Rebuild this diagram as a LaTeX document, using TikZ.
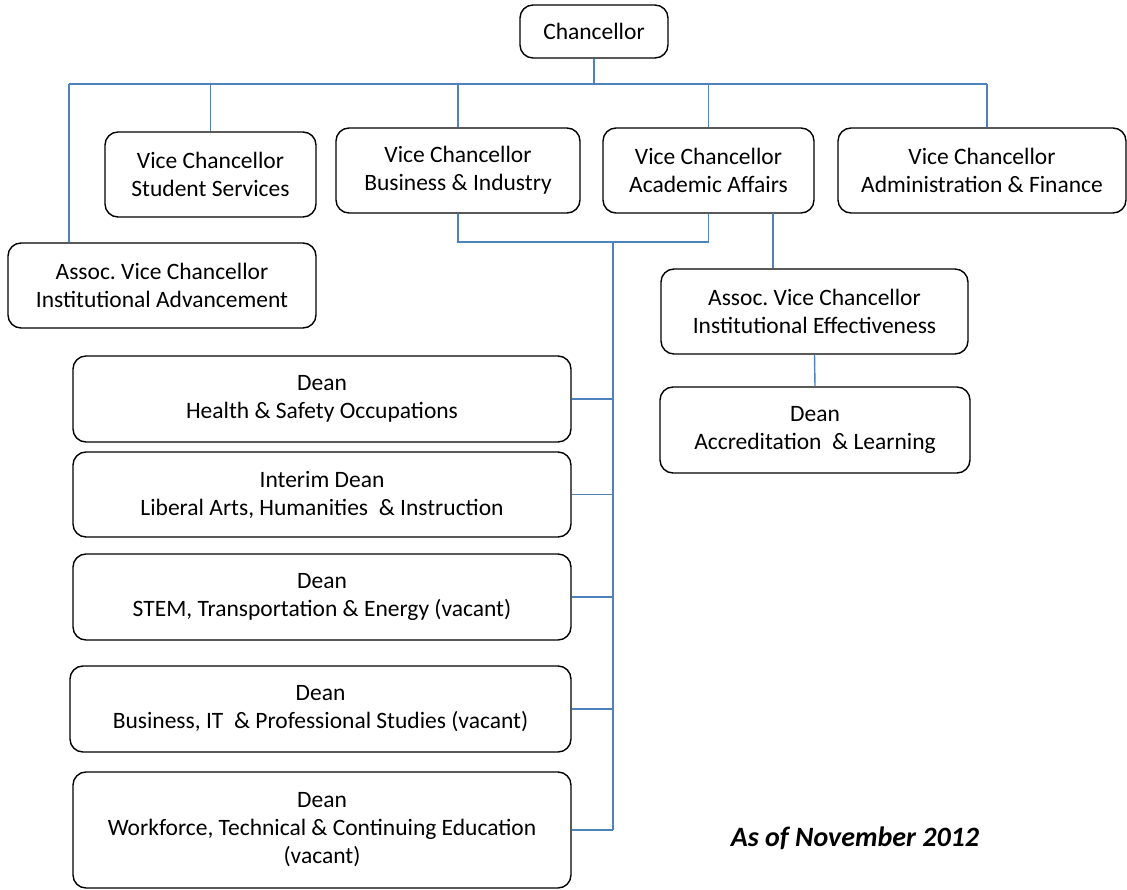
\documentclass[tikz,border=0pt]{standalone}
\usepackage{fontspec}
\setmainfont{Carlito}
\usepackage{tikz}
\definecolor{linkblue}{RGB}{79,129,189}
\frenchspacing

\begin{document}
\begin{tikzpicture}[x=1pt, y=-1pt,
    box/.style={draw, rounded corners=13pt, line width=1.4pt, align=center, inner sep=0pt,
      font=\fontsize{23.5}{28}\selectfont},
    link/.style={draw=linkblue, line width=1.4pt}]
    \useasboundingbox (0,0) rectangle (1127,890);

    \node[box, minimum width=148, minimum height=53] (chanc) at (594,31.5) {Chancellor};
    \node[box, minimum width=211, minimum height=85] (vcss) at (210.5,174.5) {Vice Chancellor\\Student Services};
    \node[box, minimum width=244, minimum height=85] (vcbi) at (458,170.5) {Vice Chancellor\\Business \& Industry};
    \node[box, minimum width=211, minimum height=85] (vcaa) at (708.5,170.5) {Vice Chancellor\\Academic Affairs};
    \node[box, minimum width=288, minimum height=85] (vcaf) at (982,170.5) {Vice Chancellor\\Administration \& Finance};
    \node[box, minimum width=308, minimum height=85] (avcia) at (162,285.5) {Assoc. Vice Chancellor\\Institutional Advancement};
    \node[box, minimum width=307, minimum height=85] (avcie) at (814.5,311.5) {Assoc. Vice Chancellor\\Institutional Effectiveness};
    \node[box, minimum width=310, minimum height=86] (deanal) at (815,430) {Dean\\Accreditation\ \ \& Learning};

    \node[box, minimum width=498, minimum height=86] (deanhs) at (322,399) {Dean\\Health \& Safety Occupations};
    \node[box, minimum width=498, minimum height=85] (deanla) at (322,494.5) {Interim Dean\\Liberal Arts, Humanities\ \ \& Instruction};
    \node[box, minimum width=498, minimum height=86] (deanstem) at (322,597) {Dean\\STEM, Transportation \& Energy (vacant)};
    \node[box, minimum width=501, minimum height=86] (deanbit) at (320.5,709) {Dean\\Business, IT\ \ \& Professional Studies (vacant)};
    \node[box, minimum width=498, minimum height=116] (deanwf) at (322,830) {Dean\\Workforce, Technical \& Continuing Education\\(vacant)};

    \node[font=\fontsize{28}{34}\selectfont\bfseries\itshape] (asof) at (855,838) {As of November 2012};

    \coordinate (busl) at (69,84);
    \coordinate (busr) at (987,84);
    \coordinate (join) at (613,242);
    \coordinate (aatap) at (773,213);

    \draw[link] (chanc.south) -- (chanc.south |- busl);
    \draw[link] (busl) -- (busr);
    \draw[link] (busl) -- (busl |- avcia.north);
    \draw[link] (vcss.north) -- (vcss.north |- busl);
    \draw[link] (vcbi.north) -- (vcbi.north |- busl);
    \draw[link] (vcaa.north) -- (vcaa.north |- busl);
    \draw[link] (busr) -- (busr |- vcaf.north);

    \draw[link] (vcbi.south) |- (join) -| (vcaa.south);
    \draw[link] (join) -- (join |- deanwf.east);
    \draw[link] (deanhs.east) -- (deanhs.east -| join);
    \draw[link] (deanla.east) -- (deanla.east -| join);
    \draw[link] (deanstem.east) -- (deanstem.east -| join);
    \draw[link] (deanbit.east) -- (deanbit.east -| join);
    \draw[link] (deanwf.east) -- (deanwf.east -| join);

    \draw[link] (aatap) -- (aatap |- avcie.north);
    \draw[link] (avcie.south) -- (deanal.north);
  \end{tikzpicture}
\end{document}
